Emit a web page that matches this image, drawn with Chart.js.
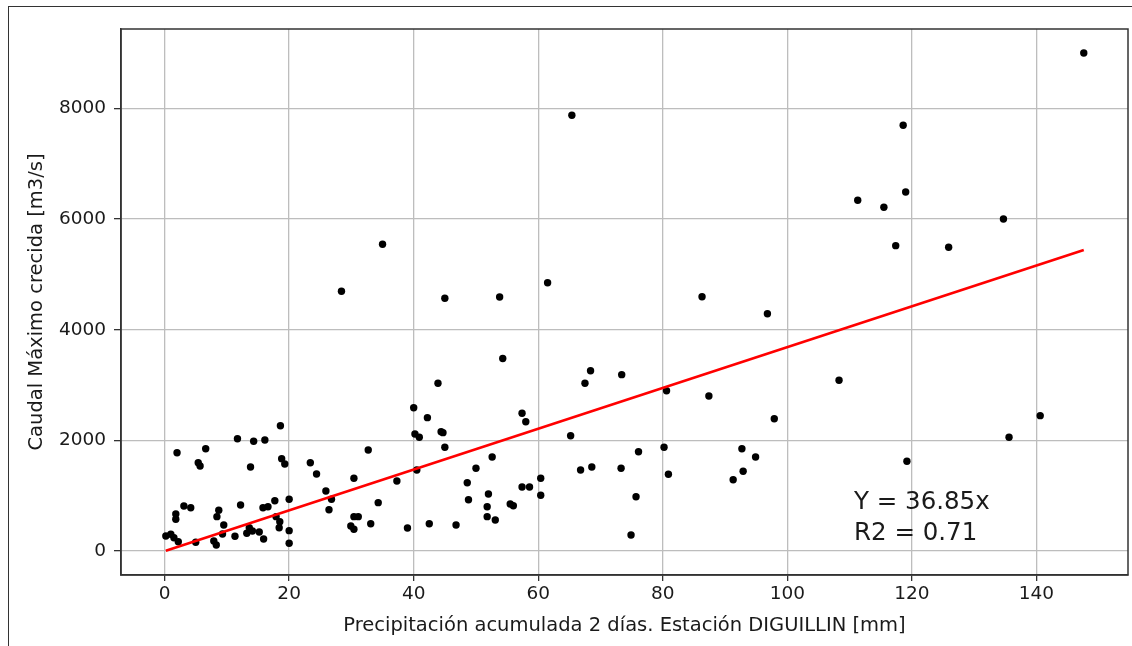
<!DOCTYPE html>
<html>
<head>
<meta charset="utf-8">
<script src="https://cdn.jsdelivr.net/npm/chart.js@4.4.1/dist/chart.umd.min.js"></script>
<style>
    body { margin: 0; background: #fff; }
    #marco { position: absolute; left: 8px; top: 6px; width: 1200px; height: 700px; border: 1.5px solid #333; }
    #caja { position: absolute; left: 0; top: 0; width: 1132px; height: 646px; }
</style>
</head>
<body>
<div id="marco"></div>
<div id="caja"><canvas id="grafico"></canvas></div>
<script>
// --- DATOS ---
const precipitacion = [
    18.6, 11.7, 14.3, 16.1, 2.0, 6.6, 5.4, 5.7, 18.8, 19.3,
    13.8, 23.4, 24.4, 3.1, 4.2, 1.8, 1.8, 12.2, 8.7, 8.4,
    9.5, 9.3, 15.8, 16.6, 17.7, 20.0, 17.9, 18.5, 18.4, 20.0,
    20.0, 0.2, 1.0, 1.5, 2.2, 5.0, 7.9, 8.3, 11.3, 13.2,
    13.6, 14.1, 15.2, 15.9, 43.9, 40.0, 42.2, 44.4, 44.7, 40.2,
    40.9, 45.0, 32.7, 52.6, 50.0, 30.4, 40.5, 37.3, 25.9, 26.8,
    26.4, 48.6, 52.0, 48.8, 34.3, 51.8, 51.8, 53.1, 30.4, 31.1,
    29.9, 30.4, 33.1, 39.0, 42.5, 46.8, 54.3, 68.4, 67.5, 73.4,
    57.4, 58.0, 80.6, 65.2, 76.1, 80.2, 80.9, 66.8, 68.6, 73.3,
    60.4, 57.4, 58.6, 60.4, 55.5, 56.0, 75.7, 74.9, 86.3, 96.8,
    87.4, 97.9, 108.3, 92.7, 94.9, 92.9, 91.3, 147.6, 118.6, 111.3,
    115.5, 119.0, 117.4, 125.9, 134.7, 65.4, 35.0, 28.4, 45.0, 53.8,
    61.5, 119.2, 135.6, 140.6
];
const caudal = [
    2266, 2031, 1984, 2007, 1778, 1850, 1597, 1538, 1670, 1574,
    1520, 1597, 1393, 815, 784, 670, 575, 833, 737, 622,
    472, 309, 784, 802, 911, 936, 622, 531, 423, 369,
    141, 273, 304, 242, 170, 159, 183, 110, 267, 322,
    423, 363, 345, 219, 3032, 2591, 2411, 2158, 2140, 2116,
    2056, 1876, 1827, 1700, 1496, 1315, 1465, 1267, 1086, 936,
    748, 1236, 1032, 929, 875, 802, 622, 562, 622, 622,
    454, 394, 495, 417, 495, 472, 3480, 3260, 3032, 3188,
    2490, 2338, 2898, 2085, 1796, 1876, 1388, 1465, 1520, 1496,
    1315, 1158, 1158, 1008, 851, 820, 983, 291, 4597, 4290,
    2803, 2392, 3086, 1850, 1700, 1442, 1290, 9001, 7694, 6339,
    6212, 6489, 5519, 5490, 6001, 7875, 5544, 4695, 4568, 4592,
    4850, 1623, 2056, 2447
];
const pendiente = 36.85;
const r2 = 0.71;
const ticksX = [0, 20, 40, 60, 80, 100, 120, 140];
const ticksY = [0, 2000, 4000, 6000, 8000];

const puntos = precipitacion.map((x, i) => ({ x: x, y: caudal[i] }));
const xMin = Math.min(...precipitacion);
const xMax = Math.max(...precipitacion);
const recta = [xMin, xMax].map(x => ({ x: x, y: pendiente * x }));

const fuente = 'DejaVu Sans';

// caja del grafico y texto de la regresion
const marcoPlugin = {
    id: 'marcoPlugin',
    afterDraw(chart) {
        const { ctx, chartArea: a, scales } = chart;
        ctx.save();
        ctx.strokeStyle = '#333';
        ctx.lineWidth = 1.5;
        ctx.strokeRect(a.left, a.top, a.right - a.left, a.bottom - a.top);
        ctx.fillStyle = '#1a1a1a';
        ctx.font = '24.5px ' + fuente;
        ctx.textAlign = 'left';
        ctx.textBaseline = 'alphabetic';
        const px = scales.x.getPixelForValue(110.7);
        const py = scales.y.getPixelForValue(200);
        ctx.fillText('R2 = ' + r2.toFixed(2), px, py);
        ctx.fillText('Y = ' + pendiente.toFixed(2) + 'x', px, py - 31);
        ctx.restore();
    }
};

new Chart(document.getElementById('grafico'), {
    type: 'scatter',
    data: {
        datasets: [
            { type: 'line', data: recta, borderColor: '#ff0000', borderWidth: 2.6, pointRadius: 0, fill: false, order: 0 },
            { data: puntos, backgroundColor: '#000', borderWidth: 0, pointRadius: 3.7, order: 1 }
        ]
    },
    options: {
        responsive: true,
        maintainAspectRatio: false,
        animation: false,
        layout: { padding: { left: 0, top: 29, right: 1, bottom: 0 } },
        plugins: { legend: { display: false }, tooltip: { enabled: false } },
        scales: {
            x: {
                type: 'linear',
                min: -7.0,
                max: 154.7,
                afterBuildTicks: s => { s.ticks = ticksX.map(v => ({ value: v })); },
                afterFit: s => { s.height = 71; },
                grid: { color: '#bdbdbd', lineWidth: 1.3, tickLength: 6, tickColor: '#333' },
                border: { display: true, color: '#333', width: 1.5 },
                ticks: { color: '#1a1a1a', padding: 2, font: { family: fuente, size: 18.5 }, callback: v => String(v) },
                title: {
                    display: true,
                    text: 'Precipitación acumulada 2 días. Estación DIGUILLIN [mm]',
                    color: '#1a1a1a',
                    font: { family: fuente, size: 19.5 },
                    padding: { top: 0, bottom: 8 }
                }
            },
            y: {
                type: 'linear',
                min: -432,
                max: 9434,
                afterBuildTicks: s => { s.ticks = ticksY.map(v => ({ value: v })); },
                afterFit: s => { s.width = 121; },
                grid: { color: '#bdbdbd', lineWidth: 1.3, tickLength: 7, tickColor: '#333' },
                border: { display: true, color: '#333', width: 1.5 },
                ticks: { color: '#1a1a1a', padding: 8, font: { family: fuente, size: 18.5 }, callback: v => String(v) },
                title: {
                    display: true,
                    text: 'Caudal Máximo crecida [m3/s]',
                    color: '#1a1a1a',
                    font: { family: fuente, size: 19.5 },
                    padding: { top: 25, bottom: 0 }
                }
            }
        }
    },
    plugins: [marcoPlugin]
});
</script>
</body>
</html>
